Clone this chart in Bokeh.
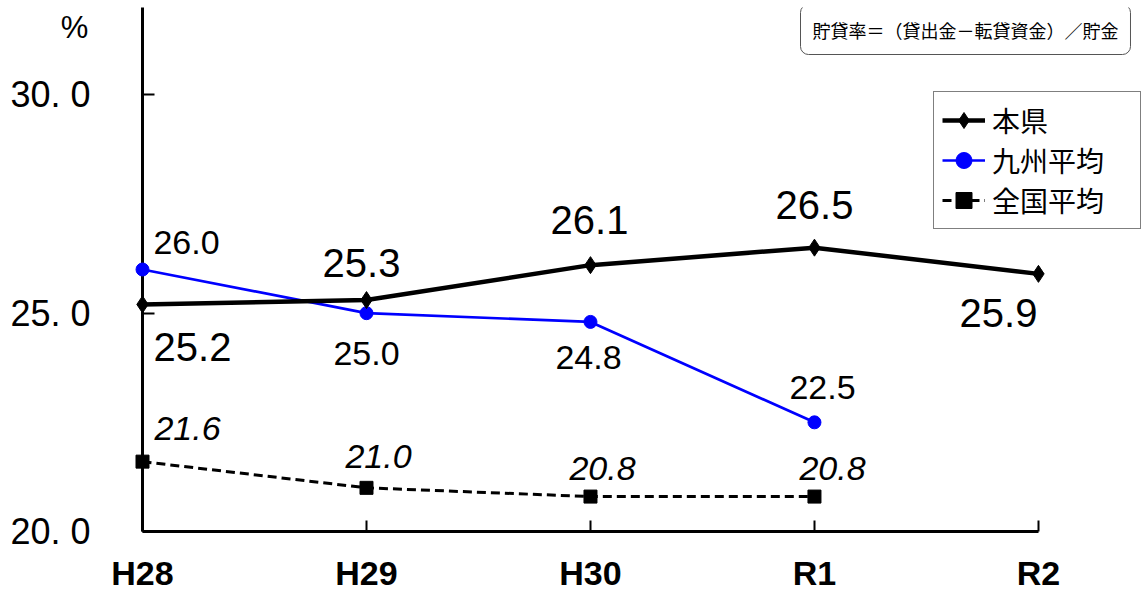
from bokeh.plotting import figure
from bokeh.models import Range1d, FixedTicker, Label, Legend, LegendItem, ColumnDataSource
from bokeh.core.properties import value
from bokeh.embed import file_html
from bokeh.resources import INLINE

# ---- data ----
categories = ["H28", "H29", "H30", "R1", "R2"]
honken = [25.2, 25.3, 26.1, 26.5, 25.9]          # 本県
kyushu = [26.0, 25.0, 24.8, 22.5]                # 九州平均
zenkoku = [21.6, 21.0, 20.8, 20.8]               # 全国平均
y_ticks = [20, 25, 30]
y_tick_labels = ["20. 0", "25. 0", "30. 0"]
series_names = ["本県", "九州平均", "全国平均"]
note_text = "貯貸率＝（貸出金－転貸資金）／貯金"
unit_text = "%"

# label offsets (screen px, y down)
honken_dx = [50, -5, -1, 0, -40]
honken_dy = [43, -37, -45, -43, 39]
kyushu_dx = [44, 0, -2, 8]
kyushu_dy = [-27, 40, 36, -35]
zenkoku_dx = [45, 12, 12, 18]
zenkoku_dy = [-33, -31, -28, -28]

FONT = "Liberation Sans"
JP = "Noto Sans CJK JP"

p = figure(width=1143, height=601,
           x_range=Range1d(0, 4.469), y_range=Range1d(20, 32),
           output_backend="svg", toolbar_location=None,
           min_border_left=142, min_border_right=0,
           min_border_top=7, min_border_bottom=70)
p.outline_line_color = None
p.xgrid.visible = False
p.ygrid.visible = False
p.background_fill_color = "white"

xs_all = list(range(len(categories)))

src_h = ColumnDataSource(dict(x=xs_all, y=honken, t=[f"{v:.1f}" for v in honken],
                              dx=honken_dx, dy=honken_dy))
src_k = ColumnDataSource(dict(x=xs_all[:len(kyushu)], y=kyushu, t=[f"{v:.1f}" for v in kyushu],
                              dx=kyushu_dx, dy=kyushu_dy))
src_z = ColumnDataSource(dict(x=xs_all[:len(zenkoku)], y=zenkoku, t=[f"{v:.1f}" for v in zenkoku],
                              dx=zenkoku_dx, dy=zenkoku_dy))

# 全国平均
lz = p.line("x", "y", source=src_z, line_color="black", line_width=3, line_dash="9 5", level="overlay")
sz = p.scatter("x", "y", source=src_z, marker="square", size=13, fill_color="black",
               line_color="black", level="overlay")
# 九州平均
lk = p.line("x", "y", source=src_k, line_color="#0000FF", line_width=2.7, level="overlay")
sk = p.scatter("x", "y", source=src_k, marker="circle", size=13, fill_color="#0000FF",
               line_color="#0000FF", level="overlay")
# 本県
lh = p.line("x", "y", source=src_h, line_color="black", line_width=4.5, level="overlay")
sh = p.scatter("x", "y", source=src_h, marker="diamond", size=17,
               fill_color="black", line_color="black", level="overlay")

# data labels
p.text("x", "y", text="t", source=src_h, x_offset="dx", y_offset="dy",
       text_align="center", text_baseline="middle", text_font=value(FONT),
       text_font_size="40px", text_color="black", level="overlay")
p.text("x", "y", text="t", source=src_k, x_offset="dx", y_offset="dy",
       text_align="center", text_baseline="middle", text_font=value(FONT),
       text_font_size="34px", text_color="black", level="overlay")
p.text("x", "y", text="t", source=src_z, x_offset="dx", y_offset="dy",
       text_align="center", text_baseline="middle", text_font=value(FONT),
       text_font_size="34px", text_font_style="italic", text_color="black", level="overlay")

# unit "%" anchored to the top of the y axis
p.text(x=[0], y=[32], text=[unit_text], x_offset=-68, y_offset=20,
       text_align="center", text_baseline="middle", text_font=value(FONT),
       text_font_size="31px", text_color="black", level="overlay")

# axes
xa = p.xaxis[0]
xa.ticker = FixedTicker(ticks=xs_all)
xa.major_label_overrides = {i: c for i, c in enumerate(categories)}
xa.bounds = (0, len(categories) - 1)
xa.axis_line_width = 3
xa.axis_line_color = "black"
xa.major_tick_in = 11
xa.major_tick_out = 0
xa.major_tick_line_width = 2
xa.minor_tick_line_color = None
xa.major_label_text_font = FONT
xa.major_label_text_font_style = "bold"
xa.major_label_text_font_size = "34px"
xa.major_label_text_color = "black"
xa.major_label_standoff = 22

ya = p.yaxis[0]
ya.ticker = FixedTicker(ticks=y_ticks)
ya.major_label_overrides = {t: l for t, l in zip(y_ticks, y_tick_labels)}
ya.bounds = (20, 32)
ya.axis_line_width = 3
ya.axis_line_color = "black"
ya.major_tick_in = 12
ya.major_tick_out = 0
ya.major_tick_line_width = 2
ya.minor_tick_line_color = None
ya.major_label_text_font = FONT
ya.major_label_text_font_size = "36px"
ya.major_label_text_color = "black"
ya.major_label_standoff = 52

# legend
legend = Legend(items=[
    LegendItem(label=series_names[0], renderers=[lh, sh]),
    LegendItem(label=series_names[1], renderers=[lk, sk]),
    LegendItem(label=series_names[2], renderers=[lz, sz]),
], location=(791, 302), orientation="vertical")
legend.label_text_font = JP
legend.label_text_font_size = "28px"
legend.label_text_color = "black"
legend.border_line_color = "black"
legend.border_line_width = 1.5
legend.background_fill_color = "white"
legend.background_fill_alpha = 1
legend.padding = 8
legend.spacing = 0
legend.margin = 0
legend.glyph_width = 43
legend.glyph_height = 40
legend.label_height = 40
legend.label_width = 140
legend.label_standoff = 7
p.add_layout(legend)

# note box
note = Label(x=658, y=502, x_units="screen", y_units="screen", text=note_text,
             text_font=JP, text_font_size="18px", text_color="black",
             text_align="left", text_baseline="middle",
             border_line_color="#555555", border_line_width=1,
             background_fill_color="white", padding=12, border_radius=8)
p.add_layout(note)

open("out.html", "w").write(file_html(p, INLINE))
